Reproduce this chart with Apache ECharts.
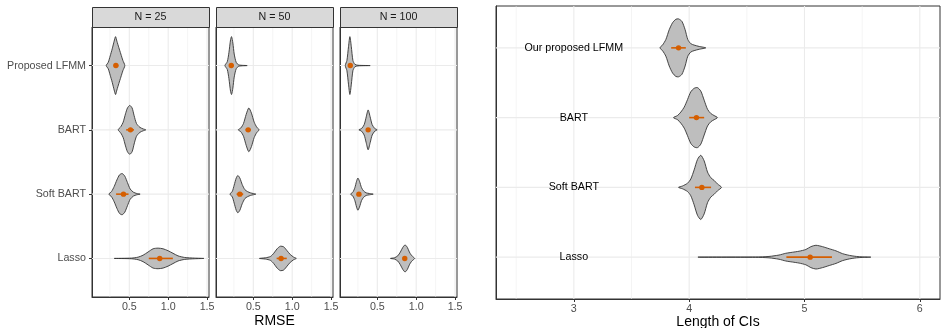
<!DOCTYPE html>
<html>
<head>
<meta charset="utf-8">
<script src="https://cdn.jsdelivr.net/npm/echarts@6/dist/echarts.min.js"></script>
<style>
  html, body { margin: 0; padding: 0; background: #fff; }
  #chart { width: 941px; height: 328px; }
</style>
</head>
<body>
<div id="chart"></div>
<script>
// categories and facet labels
const methods = ['Proposed LFMM', 'BART', 'Soft BART', 'Lasso'];
const ciLabels = ['Our proposed LFMM', 'BART', 'Soft BART', 'Lasso'];
const panels = ['N = 25', 'N = 50', 'N = 100'];

// tick labels and grid lines
const rmseTicks = [0.5, 1.0, 1.5];
const rmseMinor = [0.25, 0.75, 1.25];
const ciTicks = [3, 4, 5, 6];
const ciMinor = [2.5, 3.5, 4.5, 5.5];
const ciLabelX = 3;

// violin outlines: x positions and half widths (in category bands)
const n25X = [
  [0.203, 0.229, 0.254, 0.28, 0.305, 0.323, 0.34, 0.365, 0.391, 0.417, 0.442],
  [0.357, 0.391, 0.421, 0.451, 0.476, 0.506, 0.536, 0.562, 0.592, 0.635, 0.677, 0.712],
  [0.237, 0.271, 0.306, 0.34, 0.374, 0.408, 0.442, 0.476, 0.511, 0.553, 0.596, 0.639],
  [0.306, 0.528, 0.613, 0.677, 0.741, 0.806, 0.87, 0.934, 0.998, 1.062, 1.126, 1.212, 1.34, 1.459]
];
const n25W = [
  [0, 0.05, 0.15, 0.26, 0.38, 0.45, 0.38, 0.28, 0.18, 0.08, 0],
  [0, 0.05, 0.12, 0.25, 0.34, 0.38, 0.34, 0.22, 0.1, 0.04, 0.015, 0],
  [0, 0.04, 0.12, 0.22, 0.3, 0.32, 0.28, 0.18, 0.08, 0.03, 0.01, 0],
  [0, 0.005, 0.02, 0.05, 0.1, 0.15, 0.16, 0.15, 0.12, 0.08, 0.04, 0.015, 0.005, 0]
];
const n25Mean = [0.327, 0.515, 0.425, 0.891];
const n25Lo = [0.30, 0.46, 0.33, 0.75];
const n25Hi = [0.36, 0.56, 0.49, 1.06];

const n50X = [
  [0.135, 0.165, 0.186, 0.207, 0.22, 0.237, 0.254, 0.28, 0.314, 0.421],
  [0.306, 0.34, 0.374, 0.408, 0.442, 0.476, 0.511, 0.545, 0.575],
  [0.199, 0.229, 0.254, 0.28, 0.301, 0.327, 0.357, 0.391, 0.425, 0.464, 0.498, 0.532],
  [0.579, 0.656, 0.72, 0.763, 0.806, 0.848, 0.891, 0.934, 0.976, 1.019, 1.053]
];
const n50W = [
  [0, 0.06, 0.2, 0.4, 0.45, 0.35, 0.18, 0.05, 0.01, 0],
  [0, 0.03, 0.1, 0.24, 0.34, 0.26, 0.12, 0.04, 0],
  [0, 0.04, 0.14, 0.25, 0.29, 0.25, 0.15, 0.07, 0.04, 0.02, 0.01, 0],
  [0, 0.01, 0.03, 0.08, 0.15, 0.19, 0.18, 0.12, 0.06, 0.02, 0]
];
const n50Mean = [0.216, 0.434, 0.327, 0.857];
const n50Lo = [0.19, 0.40, 0.285, 0.80];
const n50Hi = [0.25, 0.47, 0.37, 0.93];

const n100X = [
  [0.088, 0.109, 0.13, 0.147, 0.165, 0.186, 0.211, 0.25, 0.408],
  [0.263, 0.297, 0.331, 0.357, 0.382, 0.408, 0.434, 0.468, 0.498],
  [0.156, 0.186, 0.211, 0.233, 0.25, 0.271, 0.297, 0.323, 0.357, 0.4, 0.447],
  [0.669, 0.72, 0.763, 0.797, 0.827, 0.857, 0.887, 0.912, 0.938, 0.964, 0.981]
];
const n100W = [
  [0, 0.08, 0.3, 0.45, 0.3, 0.08, 0.02, 0.005, 0],
  [0, 0.02, 0.08, 0.2, 0.31, 0.2, 0.08, 0.02, 0],
  [0, 0.03, 0.1, 0.2, 0.25, 0.2, 0.1, 0.05, 0.02, 0.01, 0],
  [0, 0.01, 0.04, 0.1, 0.17, 0.21, 0.17, 0.1, 0.05, 0.02, 0]
];
const n100Mean = [0.152, 0.382, 0.263, 0.853];
const n100Lo = [0.14, 0.37, 0.245, 0.835];
const n100Hi = [0.165, 0.40, 0.285, 0.875];

const ciX = [
  [3.746, 3.769, 3.798, 3.827, 3.856, 3.885, 3.908, 3.937, 3.965, 3.988, 4.014, 4.043, 4.087, 4.144],
  [3.864, 3.899, 3.928, 3.957, 3.986, 4.014, 4.043, 4.072, 4.101, 4.13, 4.159, 4.187, 4.216, 4.245],
  [3.908, 3.942, 3.986, 4.014, 4.043, 4.072, 4.101, 4.13, 4.159, 4.187, 4.216, 4.245, 4.28],
  [4.076, 4.576, 4.692, 4.779, 4.837, 4.895, 4.953, 5.012, 5.055, 5.099, 5.157, 5.215, 5.273, 5.33, 5.39, 5.45, 5.5, 5.575]
];
const ciW = [
  [0, 0.04, 0.12, 0.26, 0.36, 0.41, 0.415, 0.38, 0.26, 0.12, 0.06, 0.04, 0.02, 0],
  [0, 0.03, 0.08, 0.15, 0.26, 0.37, 0.42, 0.43, 0.38, 0.25, 0.12, 0.06, 0.03, 0],
  [0, 0.02, 0.06, 0.12, 0.25, 0.4, 0.46, 0.38, 0.22, 0.14, 0.1, 0.05, 0],
  [0, 0.002, 0.01, 0.03, 0.055, 0.07, 0.085, 0.11, 0.15, 0.17, 0.15, 0.12, 0.09, 0.05, 0.025, 0.01, 0.004, 0]
];
const ciMean = [3.908, 4.063, 4.11, 5.049];
const ciLo = [3.844, 4.0, 4.05, 4.843];
const ciHi = [3.971, 4.13, 4.19, 5.238];

const font = 'Liberation Sans, Arial, sans-serif';
const facetLeft = [92, 216, 340];
const facetW = 117;
const orange = '#d55e00';

let chart = echarts.init(document.getElementById('chart'));

function vGrid(params, api) {
  const cs = params.coordSys;
  const x = api.coord([api.value(0), 0])[0];
  return {
    type: 'line', silent: true,
    shape: { x1: x, y1: cs.y, x2: x, y2: cs.y + cs.height },
    style: { stroke: '#ebebeb', lineWidth: api.value(1) ? 1.1 : 0.55 }
  };
}

function hGrid(params, api) {
  const cs = params.coordSys;
  const y = api.coord([0, api.value(1)])[1];
  return {
    type: 'line', silent: true,
    shape: { x1: cs.x, y1: y, x2: cs.x + cs.width, y2: y },
    style: { stroke: '#ebebeb', lineWidth: 1.1 }
  };
}

function gridSeries(idx, majors, minors) {
  return [
    {
      type: 'custom', xAxisIndex: idx, yAxisIndex: idx, z: 1, silent: true,
      data: majors.map(v => [v, 1]).concat(minors.map(v => [v, 0])),
      renderItem: vGrid
    },
    {
      type: 'custom', xAxisIndex: idx, yAxisIndex: idx, z: 1, silent: true,
      data: methods.map((m, i) => [0, i]),
      renderItem: hGrid
    }
  ];
}

function violinSeries(idx, xs, ws, means, los, his) {
  return {
    type: 'custom', xAxisIndex: idx, yAxisIndex: idx, z: 3,
    data: means.map((m, i) => [m, i]),
    renderItem: function (params, api) {
      const i = params.dataIndex;
      const X = xs[i], W = ws[i];
      const pts = [];
      for (let k = 0; k < X.length; k++) pts.push(api.coord([X[k], i - W[k]]));
      for (let k = X.length - 2; k > 0; k--) pts.push(api.coord([X[k], i + W[k]]));
      const c = api.coord([means[i], i]);
      const a = api.coord([los[i], i]);
      const b = api.coord([his[i], i]);
      return {
        type: 'group',
        children: [
          { type: 'polygon', shape: { points: pts, smooth: 0.25 },
            style: { fill: '#bebebe', stroke: '#333', lineWidth: 0.9 } },
          { type: 'line', shape: { x1: a[0], y1: a[1], x2: b[0], y2: b[1] },
            style: { stroke: orange, lineWidth: 1.6 } },
          { type: 'circle', shape: { cx: c[0], cy: c[1], r: 2.7 },
            style: { fill: orange } }
        ]
      };
    }
  };
}

const grids = facetLeft.map(l => ({
  left: l, top: 27, width: facetW, height: 270, outerBoundsMode: 'none',
  show: true, borderColor: '#333', borderWidth: 1, backgroundColor: '#fff'
}));
grids.push({ left: 496, top: 6, width: 444, height: 293, outerBoundsMode: 'none',
  show: true, borderColor: '#333', borderWidth: 1, backgroundColor: '#fff' });

const xAxes = facetLeft.map((l, i) => ({
  type: 'value', gridIndex: i, min: 0.02, max: 1.525,
  splitLine: { show: false },
  axisLine: { show: true, onZero: false, lineStyle: { color: '#333', width: 1 } },
  axisTick: { show: true, customValues: rmseTicks, length: 3, lineStyle: { color: '#333' } },
  axisLabel: { customValues: rmseTicks, formatter: v => v.toFixed(1),
    color: '#4d4d4d', fontSize: 10.7, fontFamily: font, margin: 5 }
}));
xAxes.push({
  type: 'value', gridIndex: 3, min: 2.325, max: 6.175,
  splitLine: { show: false },
  axisLine: { show: true, onZero: false, lineStyle: { color: '#333', width: 1 } },
  axisTick: { show: true, customValues: ciTicks, length: 3, lineStyle: { color: '#333' } },
  axisLabel: { customValues: ciTicks, formatter: v => String(v),
    color: '#4d4d4d', fontSize: 10.7, fontFamily: font, margin: 5 }
});

const yAxes = [0, 1, 2, 3].map(i => ({
  type: 'value', gridIndex: i, min: -0.6, max: 3.6, inverse: true,
  splitLine: { show: false },
  axisLine: { show: true, onZero: false, lineStyle: { color: '#333', width: 1 } },
  axisTick: i === 0
    ? { show: true, customValues: [0, 1, 2, 3], length: 3, lineStyle: { color: '#333' } }
    : { show: false },
  axisLabel: i === 0
    ? { customValues: [0, 1, 2, 3], formatter: v => methods[Math.round(v)],
        color: '#4d4d4d', fontSize: 10.7, fontFamily: font, margin: 6 }
    : { show: false }
}));

const series = [];
facetLeft.forEach((l, i) => series.push(...gridSeries(i, rmseTicks, rmseMinor)));
series.push(...gridSeries(3, ciTicks, ciMinor));
series.push(violinSeries(0, n25X, n25W, n25Mean, n25Lo, n25Hi));
series.push(violinSeries(1, n50X, n50W, n50Mean, n50Lo, n50Hi));
series.push(violinSeries(2, n100X, n100W, n100Mean, n100Lo, n100Hi));
series.push(violinSeries(3, ciX, ciW, ciMean, ciLo, ciHi));
series.push({
  type: 'custom', xAxisIndex: 3, yAxisIndex: 3, z: 4,
  data: ciLabels.map((t, i) => [ciLabelX, i]),
  renderItem: function (params, api) {
    const p = api.coord([api.value(0), api.value(1)]);
    return {
      type: 'text', x: p[0], y: p[1],
      style: { text: ciLabels[params.dataIndex], fill: '#000', fontSize: 10.7,
        fontFamily: font, align: 'center', verticalAlign: 'middle' }
    };
  }
});

// facet strips and axis titles
const graphic = [];
panels.forEach((t, i) => {
  graphic.push({ type: 'rect', z: 10,
    shape: { x: facetLeft[i] + 0.5, y: 7.5, width: facetW, height: 20 },
    style: { fill: '#d9d9d9', stroke: '#333', lineWidth: 1 } });
  graphic.push({ type: 'text', z: 11, x: facetLeft[i] + facetW / 2, y: 17.5,
    style: { text: t, fill: '#1a1a1a', fontSize: 10.7, fontFamily: font,
      align: 'center', verticalAlign: 'middle' } });
});
graphic.push({ type: 'text', x: 274.5, y: 321.5,
  style: { text: 'RMSE', fill: '#000', fontSize: 14, fontFamily: font,
    align: 'center', verticalAlign: 'middle' } });
graphic.push({ type: 'text', x: 718, y: 322.5,
  style: { text: 'Length of CIs', fill: '#000', fontSize: 14, fontFamily: font,
    align: 'center', verticalAlign: 'middle' } });

let option = {
  animation: false,
  backgroundColor: '#fff',
  grid: grids,
  xAxis: xAxes,
  yAxis: yAxes,
  series: series,
  graphic: graphic
};
option && chart.setOption(option);
</script>
</body>
</html>
